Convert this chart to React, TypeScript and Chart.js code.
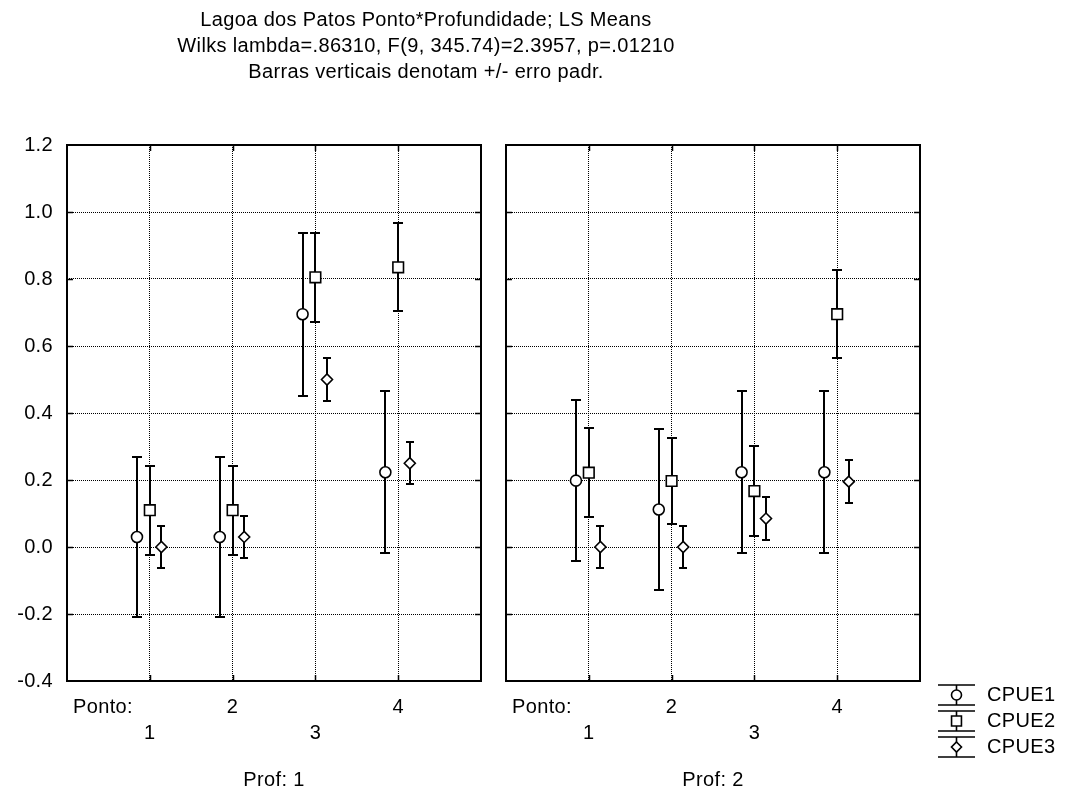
import React, { useEffect, useRef } from 'react';
import { Chart, registerables } from 'chart.js';

Chart.register(...registerables);

// ---------- text ----------
const TITLE_LINES = [
  'Lagoa dos Patos Ponto*Profundidade; LS Means',
  'Wilks lambda=.86310, F(9, 345.74)=2.3957, p=.01210',
  'Barras verticais denotam +/- erro padr.',
];
const X_FACTOR_LABEL = 'Ponto:';
const PONTO = [1, 2, 3, 4];
const PONTO_LABELS = ['1', '2', '3', '4'];
const PROF_LABELS = ['Prof: 1', 'Prof: 2'];
const SERIES = ['CPUE1', 'CPUE2', 'CPUE3'];
const Y_MIN = -0.4;
const Y_MAX = 1.2;
const Y_STEP = 0.2;

// ---------- data (LS means and standard errors) ----------
const PROF1_CPUE1_MEAN = [0.03, 0.03, 0.695, 0.223];
const PROF1_CPUE1_SE = [0.24, 0.24, 0.243, 0.242];
const PROF1_CPUE2_MEAN = [0.11, 0.11, 0.805, 0.835];
const PROF1_CPUE2_SE = [0.133, 0.133, 0.133, 0.131];
const PROF1_CPUE3_MEAN = [0.0, 0.03, 0.5, 0.25];
const PROF1_CPUE3_SE = [0.063, 0.064, 0.065, 0.062];

const PROF2_CPUE1_MEAN = [0.198, 0.112, 0.223, 0.223];
const PROF2_CPUE1_SE = [0.24, 0.24, 0.242, 0.242];
const PROF2_CPUE2_MEAN = [0.222, 0.197, 0.167, 0.695];
const PROF2_CPUE2_SE = [0.133, 0.128, 0.134, 0.132];
const PROF2_CPUE3_MEAN = [0.0, 0.0, 0.085, 0.195];
const PROF2_CPUE3_SE = [0.063, 0.063, 0.064, 0.064];

const PANEL_MEANS = [
  [PROF1_CPUE1_MEAN, PROF1_CPUE2_MEAN, PROF1_CPUE3_MEAN],
  [PROF2_CPUE1_MEAN, PROF2_CPUE2_MEAN, PROF2_CPUE3_MEAN],
];
const PANEL_SES = [
  [PROF1_CPUE1_SE, PROF1_CPUE2_SE, PROF1_CPUE3_SE],
  [PROF2_CPUE1_SE, PROF2_CPUE2_SE, PROF2_CPUE3_SE],
];

// ---------- layout / style ----------
const W = 1069;
const H = 794;
const FRAME_LEFT = [67, 506];
const FRAME_RIGHT = [481, 920];
const FRAME_TOP = 145;
const FRAME_BOTTOM = 681;
const SERIES_OFFSET = [-0.155, 0, 0.14];
const POINT_STYLE = ['circle', 'rect', 'rectRot'];
const POINT_RADIUS = [5.5, 7.5, 5.5];
const CAP_HALF = [5, 5, 4];
const FONT_FAMILY = '"Liberation Sans", Arial, Helvetica, sans-serif';
const FONT_SIZE = 20;
const LETTER_SPACING = '0.35px';

Chart.defaults.font.family = FONT_FAMILY;
Chart.defaults.font.size = FONT_SIZE;
Chart.defaults.color = '#000';

function drawMarker(ctx: CanvasRenderingContext2D, style: string, x: number, y: number, r: number) {
  ctx.beginPath();
  if (style === 'circle') {
    ctx.arc(x, y, r, 0, Math.PI * 2);
  } else if (style === 'rect') {
    const s = r * Math.SQRT1_2;
    ctx.rect(x - s, y - s, 2 * s, 2 * s);
  } else {
    ctx.moveTo(x, y - r);
    ctx.lineTo(x + r, y);
    ctx.lineTo(x, y + r);
    ctx.lineTo(x - r, y);
    ctx.closePath();
  }
  ctx.fillStyle = '#fff';
  ctx.fill();
  ctx.stroke();
}

function makePanel(canvas: HTMLCanvasElement, p: number) {
  const means = PANEL_MEANS[p];
  const ses = PANEL_SES[p];

  const datasets = SERIES.map((name, i) => ({
    label: name,
    data: PONTO.map((pt, j) => ({ x: pt + SERIES_OFFSET[i], y: means[i][j] })),
    pointStyle: POINT_STYLE[i] as any,
    pointRadius: POINT_RADIUS[i],
    pointBorderWidth: 1.6,
    pointBorderColor: '#000',
    pointBackgroundColor: '#fff',
    showLine: false,
  }));

  const spacing = {
    id: 'letterSpacing',
    beforeDraw(chart: any) {
      (chart.ctx as any).letterSpacing = LETTER_SPACING;
    },
  };

  const errorBars = {
    id: 'errorBars',
    beforeDatasetsDraw(chart: any) {
      const ctx = chart.ctx as CanvasRenderingContext2D;
      const xs = chart.scales.x;
      const ys = chart.scales.y;
      ctx.save();
      ctx.strokeStyle = '#000';
      ctx.lineWidth = 2;
      chart.data.datasets.forEach((ds: any, i: number) => {
        ds.data.forEach((pt: any, j: number) => {
          const x = Math.round(xs.getPixelForValue(pt.x));
          const yTop = Math.round(ys.getPixelForValue(pt.y + ses[i][j]));
          const yBot = Math.round(ys.getPixelForValue(pt.y - ses[i][j]));
          const c = CAP_HALF[i];
          ctx.beginPath();
          ctx.moveTo(x, yTop);
          ctx.lineTo(x, yBot);
          ctx.moveTo(x - c, yTop);
          ctx.lineTo(x + c, yTop);
          ctx.moveTo(x - c, yBot);
          ctx.lineTo(x + c, yBot);
          ctx.stroke();
        });
      });
      ctx.restore();
    },
  };

  const frame = {
    id: 'frame',
    afterDraw(chart: any) {
      const ctx = chart.ctx as CanvasRenderingContext2D;
      const { left, right, top, bottom } = chart.chartArea;
      const xs = chart.scales.x;
      const ys = chart.scales.y;
      ctx.save();
      ctx.strokeStyle = '#000';
      ctx.lineWidth = 1.5;
      ctx.beginPath();
      for (let v = Y_MIN + Y_STEP; v < Y_MAX - 1e-9; v += Y_STEP) {
        const y = Math.round(ys.getPixelForValue(v)) + 0.5;
        ctx.moveTo(left, y);
        ctx.lineTo(left + 6, y);
        ctx.moveTo(right - 6, y);
        ctx.lineTo(right, y);
      }
      PONTO.forEach((pt) => {
        const x = Math.round(xs.getPixelForValue(pt)) + 0.5;
        ctx.moveTo(x, top);
        ctx.lineTo(x, top + 6);
        ctx.moveTo(x, bottom - 6);
        ctx.lineTo(x, bottom);
      });
      ctx.stroke();
      ctx.lineWidth = 2;
      ctx.strokeRect(left, top, right - left, bottom - top);
      ctx.fillStyle = '#000';
      ctx.font = `${FONT_SIZE}px ${FONT_FAMILY}`;
      ctx.textAlign = 'left';
      ctx.textBaseline = 'middle';
      ctx.fillText(X_FACTOR_LABEL, left + 6, 707);
      ctx.restore();
    },
  };

  const title = {
    id: 'mainTitle',
    afterDraw(chart: any) {
      const ctx = chart.ctx as CanvasRenderingContext2D;
      ctx.save();
      ctx.fillStyle = '#000';
      ctx.font = `${FONT_SIZE}px ${FONT_FAMILY}`;
      ctx.textAlign = 'center';
      ctx.textBaseline = 'middle';
      TITLE_LINES.forEach((line, k) => ctx.fillText(line, 426, 20 + k * 26));
      ctx.restore();
    },
  };

  const legend = {
    id: 'seriesLegend',
    afterDraw(chart: any) {
      const ctx = chart.ctx as CanvasRenderingContext2D;
      ctx.save();
      ctx.strokeStyle = '#000';
      ctx.lineWidth = 1.6;
      const x0 = 938;
      const x1 = 975;
      const xm = (x0 + x1) / 2;
      SERIES.forEach((name, i) => {
        const cy = 695 + i * 26;
        const t = cy - 10;
        const b = cy + 10;
        ctx.beginPath();
        ctx.moveTo(x0, t);
        ctx.lineTo(x1, t);
        ctx.moveTo(x0, b);
        ctx.lineTo(x1, b);
        ctx.moveTo(xm, t);
        ctx.lineTo(xm, b);
        ctx.stroke();
        drawMarker(ctx, POINT_STYLE[i], xm, cy, i === 1 ? 7 : 5);
        ctx.fillStyle = '#000';
        ctx.font = `${FONT_SIZE}px ${FONT_FAMILY}`;
        ctx.textAlign = 'left';
        ctx.textBaseline = 'middle';
        ctx.fillText(name, 987, cy);
      });
      ctx.restore();
    },
  };

  const plugins: any[] = [spacing, errorBars, frame];
  if (p === 0) plugins.push(title);
  if (p === 1) plugins.push(legend);

  return new Chart(canvas, {
    type: 'scatter',
    data: { datasets },
    plugins,
    options: {
      responsive: false,
      animation: false,
      events: [],
      layout: { padding: { top: FRAME_TOP, left: 0, right: W - FRAME_RIGHT[p], bottom: 0 } },
      plugins: { legend: { display: false }, tooltip: { enabled: false }, title: { display: false } },
      scales: {
        x: {
          type: 'linear',
          min: 0,
          max: 5,
          afterFit: (s: any) => {
            s.height = H - FRAME_BOTTOM;
          },
          grid: { color: '#000', lineWidth: 1, drawTicks: false },
          border: { display: false, dash: [1, 1] },
          ticks: {
            stepSize: 1,
            autoSkip: false,
            maxRotation: 0,
            padding: 13,
            font: { size: FONT_SIZE, lineHeight: 1.3 },
            callback: (v: any) => {
              const idx = PONTO.indexOf(Number(v));
              if (idx < 0) return null;
              const lbl = PONTO_LABELS[idx];
              return idx % 2 === 0 ? ['', lbl] : [lbl, ''];
            },
          },
          title: {
            display: true,
            text: PROF_LABELS[p],
            font: { size: FONT_SIZE, lineHeight: 1.2 },
            padding: { top: 0, bottom: 2 },
          },
        },
        y: {
          type: 'linear',
          min: Y_MIN,
          max: Y_MAX,
          afterFit: (s: any) => {
            s.width = FRAME_LEFT[p];
          },
          grid: { color: '#000', lineWidth: 1, drawTicks: false },
          border: { display: false, dash: [1, 1] },
          ticks: {
            display: p === 0,
            stepSize: Y_STEP,
            padding: 14,
            callback: (v: any) => Number(v).toFixed(1),
          },
        },
      },
    },
  });
}

export default function App() {
  const refA = useRef<HTMLCanvasElement>(null);
  const refB = useRef<HTMLCanvasElement>(null);
  useEffect(() => {
    const a = makePanel(refA.current!, 0);
    const b = makePanel(refB.current!, 1);
    return () => {
      a.destroy();
      b.destroy();
    };
  }, []);
  return (
    <div style={{ position: 'fixed', left: 0, top: 0, width: W, height: H, background: '#fff' }}>
      <canvas ref={refA} width={W} height={H} style={{ position: 'absolute', left: 0, top: 0 }} />
      <canvas ref={refB} width={W} height={H} style={{ position: 'absolute', left: 0, top: 0 }} />
    </div>
  );
}
